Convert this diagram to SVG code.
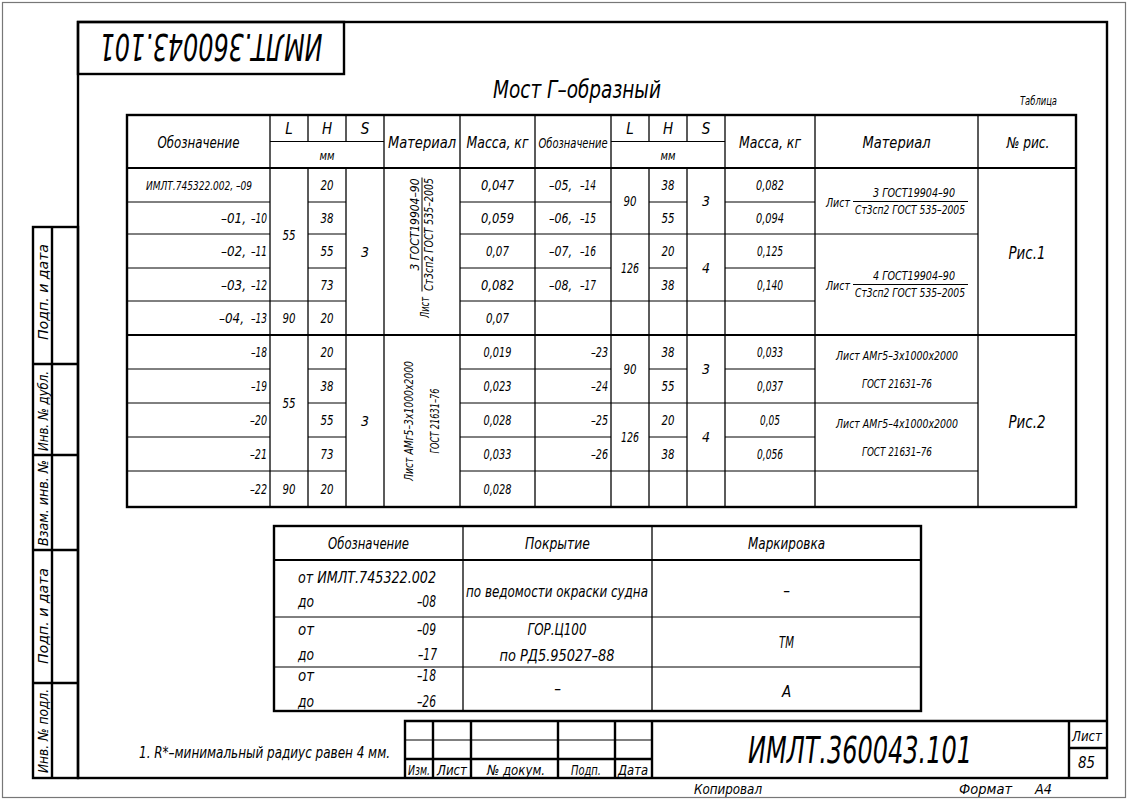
<svg xmlns="http://www.w3.org/2000/svg" width="1129" height="801" viewBox="0 0 1129 801">
<style>
.t{font-family:"Liberation Sans Narrow","DejaVu Sans Condensed","Liberation Sans",sans-serif;font-style:italic;fill:#000}
.m{text-anchor:middle}
.e{text-anchor:end}
.s11{font-size:11px}.s12{font-size:12px}.s13{font-size:13px}.s14{font-size:14px}.s15{font-size:15px}.s17{font-size:18px}.s22{font-size:24px}.s36{font-size:38px}
.thick{stroke:#000;stroke-width:2.4;fill:none}
.med{stroke:#000;stroke-width:1.8;fill:none}
.thin{stroke:#000;stroke-width:1;fill:none}
.v{stroke:#333;stroke-width:1.6;fill:none}
</style>
<rect width="1129" height="801" fill="#fff"/>
<g id="sheet">
<rect x="2.5" y="2.5" width="1123" height="795" fill="none" stroke="#777" stroke-width="1.2"/>
<rect x="78" y="22" width="1029" height="756" class="thick"/>
</g>
<g id="header-box">
<rect x="78" y="22" width="266" height="52" class="thick"/>
<text class="t s36 m" x="211" y="62" textLength="223" lengthAdjust="spacingAndGlyphs" transform="rotate(180 211 48)">ИМЛТ.360043.101</text>
</g>
<g id="side-stamp">
<rect x="33" y="227" width="45" height="551" class="thick"/>
<path class="thick" d="M52,227V778M33,364H78M33,455H78M33,550H78M33,683H78"/>
<g class="t s14">
<text class="m" textLength="96" lengthAdjust="spacingAndGlyphs" transform="translate(47.5,292) rotate(-90)">Подп. и дата</text>
<text class="m" textLength="80" lengthAdjust="spacingAndGlyphs" transform="translate(47.5,411) rotate(-90)">Инв. № дубл.</text>
<text class="m" textLength="86" lengthAdjust="spacingAndGlyphs" transform="translate(47.5,503) rotate(-90)">Взам. инв. №</text>
<text class="m" textLength="96" lengthAdjust="spacingAndGlyphs" transform="translate(47.5,616) rotate(-90)">Подп. и дата</text>
<text class="m" textLength="84" lengthAdjust="spacingAndGlyphs" transform="translate(47.5,731) rotate(-90)">Инв. № подл.</text>
</g>
</g>
<g id="title">
<text class="t s22" x="493" y="98" textLength="168" lengthAdjust="spacingAndGlyphs">Мост Г–образный</text>
<text class="t s12" x="1020" y="105" textLength="37" lengthAdjust="spacingAndGlyphs">Таблица</text>
</g>
<g id="main-table">
<g id="grid">
<path class="v" d="M270,115V507M384,115V507M460,115V507M535,115V507M611,115V507M725,115V507M815,115V507M978,115V507"/>
<path class="v" d="M308,115V141.5M346,115V141.5M649,115V141.5M687,115V141.5M308,168V507M346,168V507M649,168V507M687,168V507"/>
<path class="thin" d="M270,141.5H384M611,141.5H725"/>
<path class="med" d="M127,168H1076M127,335H1076"/>
<path class="thin" d="M127,202H270M127,234H270M127,268H270M127,301H270
M270,301H308
M308,202H346M308,234H346M308,268H346M308,301H346
M460,202H611M460,234H611M460,268H611M460,301H611
M611,234H649M611,301H649
M649,202H687M649,234H687M649,268H687M649,301H687
M687,234H725M687,301H725
M725,202H815M725,234H815M725,268H815M725,301H815
M815,234H978"/>
<path class="thin" d="M127,369H270M127,403H270M127,437H270M127,471H270
M270,471H308
M308,369H346M308,403H346M308,437H346M308,471H346
M460,369H611M460,403H611M460,437H611M460,471H611
M611,403H649M611,471H649
M649,369H687M649,403H687M649,437H687M649,471H687
M687,403H725M687,471H725
M725,369H815M725,403H815M725,437H815M725,471H815
M815,403H978M815,471H978"/>
<rect x="127" y="115" width="949" height="392" class="thick"/>
</g>
<g id="head-texts" class="t s15">
<text class="m" x="198.5" y="148" textLength="82" lengthAdjust="spacingAndGlyphs">Обозначение</text>
<text class="m" x="289" y="134">L</text>
<text class="m" x="327" y="134">H</text>
<text class="m" x="365" y="134">S</text>
<text class="s13 m" x="327" y="160" textLength="15" lengthAdjust="spacingAndGlyphs">мм</text>
<text class="m" x="422" y="148" textLength="68" lengthAdjust="spacingAndGlyphs">Материал</text>
<text class="m" x="497.5" y="148" textLength="62" lengthAdjust="spacingAndGlyphs">Масса, кг</text>
<text class="s14 m" x="573" y="148" textLength="69" lengthAdjust="spacingAndGlyphs">Обозначение</text>
<text class="m" x="630" y="134">L</text>
<text class="m" x="668" y="134">H</text>
<text class="m" x="706" y="134">S</text>
<text class="s13 m" x="668" y="160" textLength="15" lengthAdjust="spacingAndGlyphs">мм</text>
<text class="m" x="770" y="148" textLength="62" lengthAdjust="spacingAndGlyphs">Масса, кг</text>
<text class="m" x="896.5" y="148" textLength="68" lengthAdjust="spacingAndGlyphs">Материал</text>
<text class="m" x="1028" y="148" textLength="43" lengthAdjust="spacingAndGlyphs">№ рис.</text>
</g>
<g id="group1" class="t s14">
<text class="s13 m" x="199" y="190" textLength="106" lengthAdjust="spacingAndGlyphs">ИМЛТ.745322.002, –09</text>
<text class="e" x="246" y="223" textLength="25" lengthAdjust="spacingAndGlyphs">–01,</text><text class="e" x="267" y="223" textLength="16" lengthAdjust="spacingAndGlyphs">–10</text>
<text class="e" x="246" y="256" textLength="25" lengthAdjust="spacingAndGlyphs">–02,</text><text class="e" x="267" y="256" textLength="16" lengthAdjust="spacingAndGlyphs">–11</text>
<text class="e" x="246" y="289.5" textLength="25" lengthAdjust="spacingAndGlyphs">–03,</text><text class="e" x="267" y="289.5" textLength="16" lengthAdjust="spacingAndGlyphs">–12</text>
<text class="e" x="244" y="323" textLength="25" lengthAdjust="spacingAndGlyphs">–04,</text><text class="e" x="267" y="323" textLength="16" lengthAdjust="spacingAndGlyphs">–13</text>
<text class="m" x="289" y="240" textLength="13" lengthAdjust="spacingAndGlyphs">55</text>
<text class="m" x="289" y="323" textLength="13" lengthAdjust="spacingAndGlyphs">90</text>
<text class="m" x="327" y="190" textLength="13" lengthAdjust="spacingAndGlyphs">20</text>
<text class="m" x="327" y="223" textLength="13" lengthAdjust="spacingAndGlyphs">38</text>
<text class="m" x="327" y="256" textLength="13" lengthAdjust="spacingAndGlyphs">55</text>
<text class="m" x="327" y="289.5" textLength="13" lengthAdjust="spacingAndGlyphs">73</text>
<text class="m" x="327" y="323" textLength="13" lengthAdjust="spacingAndGlyphs">20</text>
<text class="m" x="365" y="257">3</text>
<g transform="translate(422,251.5) rotate(-90)">
<path class="thin" d="M-40,0H74"/>
<text class="s12 m" x="27" y="-3" textLength="92" lengthAdjust="spacingAndGlyphs">3 ГОСТ19904–90</text>
<text class="s12 m" x="17" y="11" textLength="113" lengthAdjust="spacingAndGlyphs">Ст3сп2 ГОСТ 535–2005</text>
<text class="s12 m" x="-56" y="7" textLength="21" lengthAdjust="spacingAndGlyphs">Лист</text>
</g>
<text class="m" x="497.5" y="190" textLength="33" lengthAdjust="spacingAndGlyphs">0,047</text>
<text class="m" x="497.5" y="223" textLength="33" lengthAdjust="spacingAndGlyphs">0,059</text>
<text class="m" x="497.5" y="256" textLength="23" lengthAdjust="spacingAndGlyphs">0,07</text>
<text class="m" x="497.5" y="289.5" textLength="33" lengthAdjust="spacingAndGlyphs">0,082</text>
<text class="m" x="497.5" y="323" textLength="23" lengthAdjust="spacingAndGlyphs">0,07</text>
<text x="549" y="190" textLength="23" lengthAdjust="spacingAndGlyphs">–05,</text><text class="e" x="596" y="190" textLength="16" lengthAdjust="spacingAndGlyphs">–14</text>
<text x="549" y="223" textLength="23" lengthAdjust="spacingAndGlyphs">–06,</text><text class="e" x="596" y="223" textLength="16" lengthAdjust="spacingAndGlyphs">–15</text>
<text x="549" y="256" textLength="23" lengthAdjust="spacingAndGlyphs">–07,</text><text class="e" x="596" y="256" textLength="16" lengthAdjust="spacingAndGlyphs">–16</text>
<text x="549" y="289.5" textLength="23" lengthAdjust="spacingAndGlyphs">–08,</text><text class="e" x="596" y="289.5" textLength="16" lengthAdjust="spacingAndGlyphs">–17</text>
<text class="m" x="630" y="206" textLength="13" lengthAdjust="spacingAndGlyphs">90</text>
<text class="m" x="630" y="273" textLength="18" lengthAdjust="spacingAndGlyphs">126</text>
<text class="m" x="668" y="190" textLength="13" lengthAdjust="spacingAndGlyphs">38</text>
<text class="m" x="668" y="223" textLength="13" lengthAdjust="spacingAndGlyphs">55</text>
<text class="m" x="668" y="256" textLength="13" lengthAdjust="spacingAndGlyphs">20</text>
<text class="m" x="668" y="289.5" textLength="13" lengthAdjust="spacingAndGlyphs">38</text>
<text class="m" x="706" y="206">3</text>
<text class="m" x="706" y="273">4</text>
<text class="m" x="770" y="190" textLength="28" lengthAdjust="spacingAndGlyphs">0,082</text>
<text class="m" x="770" y="223" textLength="28" lengthAdjust="spacingAndGlyphs">0,094</text>
<text class="m" x="770" y="256" textLength="26" lengthAdjust="spacingAndGlyphs">0,125</text>
<text class="m" x="770" y="289.5" textLength="26" lengthAdjust="spacingAndGlyphs">0,140</text>
<text class="s13" x="826" y="207" textLength="24" lengthAdjust="spacingAndGlyphs">Лист</text>
<path class="thin" d="M853,201.5H968"/>
<text class="s13 m" x="914" y="197" textLength="82" lengthAdjust="spacingAndGlyphs">3 ГОСТ19904–90</text>
<text class="s13 m" x="910" y="214" textLength="110" lengthAdjust="spacingAndGlyphs">Ст3сп2 ГОСТ 535–2005</text>
<text class="s13" x="826" y="290" textLength="24" lengthAdjust="spacingAndGlyphs">Лист</text>
<path class="thin" d="M853,284.5H968"/>
<text class="s13 m" x="914" y="280" textLength="82" lengthAdjust="spacingAndGlyphs">4 ГОСТ19904–90</text>
<text class="s13 m" x="910" y="297" textLength="110" lengthAdjust="spacingAndGlyphs">Ст3сп2 ГОСТ 535–2005</text>
<text class="s17 m" x="1027" y="259" textLength="37" lengthAdjust="spacingAndGlyphs">Рис.1</text>
</g>
<g id="group2" class="t s14">
<text class="e" x="267" y="357" textLength="16" lengthAdjust="spacingAndGlyphs">–18</text>
<text class="e" x="267" y="391" textLength="16" lengthAdjust="spacingAndGlyphs">–19</text>
<text class="e" x="267" y="425" textLength="17" lengthAdjust="spacingAndGlyphs">–20</text>
<text class="e" x="267" y="459" textLength="17" lengthAdjust="spacingAndGlyphs">–21</text>
<text class="e" x="267" y="494" textLength="17" lengthAdjust="spacingAndGlyphs">–22</text>
<text class="m" x="289" y="408" textLength="13" lengthAdjust="spacingAndGlyphs">55</text>
<text class="m" x="289" y="494" textLength="13" lengthAdjust="spacingAndGlyphs">90</text>
<text class="m" x="327" y="357" textLength="13" lengthAdjust="spacingAndGlyphs">20</text>
<text class="m" x="327" y="391" textLength="13" lengthAdjust="spacingAndGlyphs">38</text>
<text class="m" x="327" y="425" textLength="13" lengthAdjust="spacingAndGlyphs">55</text>
<text class="m" x="327" y="459" textLength="13" lengthAdjust="spacingAndGlyphs">73</text>
<text class="m" x="327" y="494" textLength="13" lengthAdjust="spacingAndGlyphs">20</text>
<text class="m" x="365" y="426">3</text>
<g transform="translate(422,421) rotate(-90)">
<text class="s13 m" x="0" y="-9" textLength="120" lengthAdjust="spacingAndGlyphs">Лист АМг5–3х1000х2000</text>
<text class="s13 m" x="0" y="17" textLength="65" lengthAdjust="spacingAndGlyphs">ГОСТ 21631–76</text>
</g>
<text class="m" x="497.5" y="357" textLength="28" lengthAdjust="spacingAndGlyphs">0,019</text>
<text class="m" x="497.5" y="391" textLength="28" lengthAdjust="spacingAndGlyphs">0,023</text>
<text class="m" x="497.5" y="425" textLength="28" lengthAdjust="spacingAndGlyphs">0,028</text>
<text class="m" x="497.5" y="459" textLength="28" lengthAdjust="spacingAndGlyphs">0,033</text>
<text class="m" x="497.5" y="494" textLength="28" lengthAdjust="spacingAndGlyphs">0,028</text>
<text class="e" x="608" y="357" textLength="17" lengthAdjust="spacingAndGlyphs">–23</text>
<text class="e" x="608" y="391" textLength="17" lengthAdjust="spacingAndGlyphs">–24</text>
<text class="e" x="608" y="425" textLength="17" lengthAdjust="spacingAndGlyphs">–25</text>
<text class="e" x="608" y="459" textLength="17" lengthAdjust="spacingAndGlyphs">–26</text>
<text class="m" x="630" y="374" textLength="13" lengthAdjust="spacingAndGlyphs">90</text>
<text class="m" x="630" y="442" textLength="18" lengthAdjust="spacingAndGlyphs">126</text>
<text class="m" x="668" y="357" textLength="13" lengthAdjust="spacingAndGlyphs">38</text>
<text class="m" x="668" y="391" textLength="13" lengthAdjust="spacingAndGlyphs">55</text>
<text class="m" x="668" y="425" textLength="13" lengthAdjust="spacingAndGlyphs">20</text>
<text class="m" x="668" y="459" textLength="13" lengthAdjust="spacingAndGlyphs">38</text>
<text class="m" x="706" y="374">3</text>
<text class="m" x="706" y="442">4</text>
<text class="m" x="770" y="357" textLength="26" lengthAdjust="spacingAndGlyphs">0,033</text>
<text class="m" x="770" y="391" textLength="26" lengthAdjust="spacingAndGlyphs">0,037</text>
<text class="m" x="770" y="425" textLength="20" lengthAdjust="spacingAndGlyphs">0,05</text>
<text class="m" x="770" y="459" textLength="26" lengthAdjust="spacingAndGlyphs">0,056</text>
<text class="s13 m" x="897" y="360" textLength="122" lengthAdjust="spacingAndGlyphs">Лист АМг5–3х1000х2000</text>
<text class="s13 m" x="897" y="388" textLength="70" lengthAdjust="spacingAndGlyphs">ГОСТ 21631–76</text>
<text class="s13 m" x="897" y="428" textLength="122" lengthAdjust="spacingAndGlyphs">Лист АМг5–4х1000х2000</text>
<text class="s13 m" x="897" y="456" textLength="70" lengthAdjust="spacingAndGlyphs">ГОСТ 21631–76</text>
<text class="s17 m" x="1027" y="428" textLength="37" lengthAdjust="spacingAndGlyphs">Рис.2</text>
</g>
</g>
<g id="coating-table">
<path class="v" d="M463,526V711M652,526V711"/>
<path class="med" d="M274,560H921"/>
<path class="thin" d="M274,617H921M274,667H921"/>
<rect x="274" y="526" width="647" height="185" class="thick"/>
<g class="t s15">
<text class="m" x="368.5" y="549" textLength="81" lengthAdjust="spacingAndGlyphs">Обозначение</text>
<text class="m" x="557.5" y="549" textLength="65" lengthAdjust="spacingAndGlyphs">Покрытие</text>
<text class="m" x="786.5" y="549" textLength="77" lengthAdjust="spacingAndGlyphs">Маркировка</text>
<text x="298" y="583" textLength="138" lengthAdjust="spacingAndGlyphs">от ИМЛТ.745322.002</text>
<text x="298" y="607" textLength="16" lengthAdjust="spacingAndGlyphs">до</text><text class="e" x="436" y="607" textLength="19" lengthAdjust="spacingAndGlyphs">–08</text>
<text class="m" x="557" y="597" textLength="182" lengthAdjust="spacingAndGlyphs">по ведомости окраски судна</text>
<text class="m" x="786.5" y="596">–</text>
<text x="298" y="635" textLength="16" lengthAdjust="spacingAndGlyphs">от</text><text class="e" x="436" y="635" textLength="19" lengthAdjust="spacingAndGlyphs">–09</text>
<text x="298" y="660" textLength="16" lengthAdjust="spacingAndGlyphs">до</text><text class="e" x="437" y="660" textLength="19" lengthAdjust="spacingAndGlyphs">–17</text>
<text class="m" x="557" y="635" textLength="59" lengthAdjust="spacingAndGlyphs">ГОР.Ц100</text>
<text class="m" x="557" y="661" textLength="115" lengthAdjust="spacingAndGlyphs">по РД5.95027–88</text>
<text class="m" x="786.5" y="648" textLength="15" lengthAdjust="spacingAndGlyphs">ТМ</text>
<text x="298" y="681" textLength="16" lengthAdjust="spacingAndGlyphs">от</text><text class="e" x="436" y="681" textLength="19" lengthAdjust="spacingAndGlyphs">–18</text>
<text x="298" y="707" textLength="16" lengthAdjust="spacingAndGlyphs">до</text><text class="e" x="436" y="707" textLength="19" lengthAdjust="spacingAndGlyphs">–26</text>
<text class="m" x="557.5" y="694">–</text>
<text class="m" x="786.5" y="697">А</text>
</g>
</g>
<g id="note">
<text class="t s15" x="139" y="758" textLength="251" lengthAdjust="spacingAndGlyphs">1. R*–минимальный радиус равен 4 мм.</text>
</g>
<g id="title-block">
<path class="thick" d="M405,778V721H1107M433,721V778M471,721V778M558,721V778M615,721V778M652,721V778M1069,721V778M405,759H652M1069,748H1107"/>
<path class="thin" d="M405,740H652"/>
<g class="t s14">
<text x="408" y="775" textLength="22" lengthAdjust="spacingAndGlyphs">Изм.</text>
<text x="437" y="775" textLength="30" lengthAdjust="spacingAndGlyphs">Лист</text>
<text x="487" y="775" textLength="58" lengthAdjust="spacingAndGlyphs">№ докум.</text>
<text x="571" y="775" textLength="30" lengthAdjust="spacingAndGlyphs">Подп.</text>
<text x="618" y="775" textLength="30" lengthAdjust="spacingAndGlyphs">Дата</text>
<text x="1072" y="741" textLength="30" lengthAdjust="spacingAndGlyphs">Лист</text>
<text class="s15" x="1078" y="768" textLength="17" lengthAdjust="spacingAndGlyphs">85</text>
<text x="694" y="794" textLength="68" lengthAdjust="spacingAndGlyphs">Копировал</text>
<text x="959" y="794" textLength="53" lengthAdjust="spacingAndGlyphs">Формат</text>
<text x="1035" y="794" textLength="17" lengthAdjust="spacingAndGlyphs">А4</text>
</g>
<text class="t s36" x="748" y="763" textLength="224" lengthAdjust="spacingAndGlyphs">ИМЛТ.360043.101</text>
</g>
</svg>
